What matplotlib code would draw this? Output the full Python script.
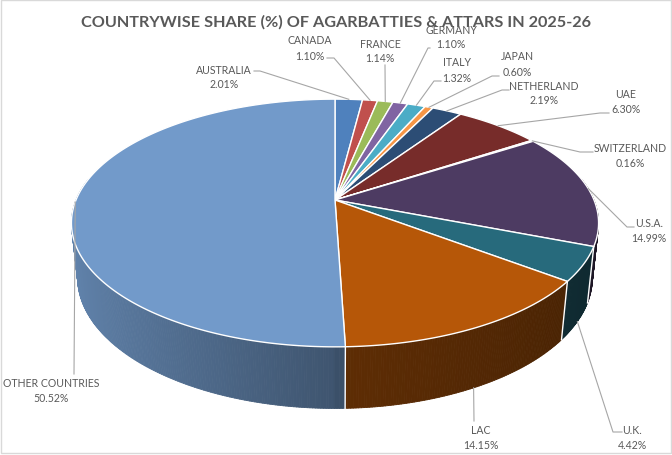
import numpy as np
import matplotlib
matplotlib.use('Agg')
import matplotlib.pyplot as plt
from matplotlib.collections import PolyCollection
from matplotlib.patches import Polygon, Rectangle
from matplotlib.colors import to_rgb

## Data

countries = ['AUSTRALIA', 'CANADA', 'FRANCE', 'GERMANY', 'ITALY', 'JAPAN', 'NETHERLAND',
             'UAE', 'SWITZERLAND', 'U.S.A.', 'U.K.', 'LAC', 'OTHER COUNTRIES']
shares = [2.01, 1.10, 1.14, 1.10, 1.32, 0.60, 2.19, 6.30, 0.16, 14.99, 4.42, 14.15, 50.52]
colors = ['#4F81BD', '#C0504D', '#9BBB59', '#8064A2', '#4BACC6', '#F79646', '#2C4D75',
          '#772C2A', '#5F7530', '#4D3B62', '#276A7C', '#B65708', '#729ACA']

TITLE = 'COUNTRYWISE SHARE (%) OF AGARBATTIES & ATTARS IN 2025-26'

## Layout (pixels, y downwards)

W, H = 672, 456
CX, CY = 335, 201          # projected centre of the pie top
RAD = 259                  # pie radius
ELEV = np.radians(27.5)    # view elevation
DIST = 1238                # perspective distance
DEPTH = 62                 # pie thickness

# label block (centre x, first line y), leader path from label towards slice, anchor rim
label_pos = [(224, 70), (310, 41), (380, 44), (451, 30), (457, 63), (517, 57), (544, 86),
             (626, 95), (630, 149), (649, 224), (632, 431), (481, 431), (51, 384)]
leader_pts = [[(254, 72), (260, 72)], [(327, 59), (334, 59)], [(385, 66)], [(430, 49), (428, 49)],
              [(441, 82), (434, 82)], [(499, 77), (492, 77)], [(509, 91), (502, 91)],
              [(609, 114), (600, 114)], [(593, 153), (580, 153)], [(634, 228), (627, 228)],
              [(622, 433), (613, 433)], [(474, 422)], [(74, 375)]]
anchor_rim = ['top'] * 10 + ['bottom', 'bottom', 'top']

TEXT_COL = '#595959'
LINE_COL = '#A6A6A6'
FONT = ['Lato', 'DejaVu Sans']
TITLE_WIDTH = 508          # px, as in the reference


def project(theta_deg, y):
    t = np.radians(theta_deg)
    X = RAD * np.sin(t)
    Z = RAD * np.cos(t)
    y_up = Z * np.sin(ELEV) + y * np.cos(ELEV)
    depth = Z * np.cos(ELEV) - y * np.sin(ELEV)
    s = DIST / (DIST + depth)
    return CX + X * s, CY - y_up * s, depth


def side_factor(theta_deg):
    sn = np.sin(np.radians(theta_deg))
    if sn < 0:
        return 0.55 + 0.31 * (-sn)
    return 0.52 - 0.14 * sn


fig = plt.figure(figsize=(W / 100, H / 100), dpi=100)
ax = fig.add_axes([0, 0, 1, 1])
ax.set_xlim(0, W)
ax.set_ylim(H, 0)
ax.axis('off')

bounds = np.concatenate([[0], np.cumsum(shares)]) / sum(shares) * 360.0

# side faces as thin strips, far to near
strips, strip_cols, strip_depth = [], [], []
for i, c in enumerate(colors):
    a0, a1 = bounds[i], bounds[i + 1]
    lo, hi = max(a0, 80), min(a1, 280)
    if hi <= lo:
        continue
    n = max(2, int((hi - lo) / 0.5))
    th = np.linspace(lo, hi, n + 1)
    base = np.array(to_rgb(c))
    for ta, tb in zip(th[:-1], th[1:]):
        xa, ya, da = project(ta, 0)
        xb, yb, db = project(tb, 0)
        xc, yc, dc = project(tb, -DEPTH)
        xd, yd, dd = project(ta, -DEPTH)
        strips.append([(xa, ya), (xb, yb), (xc, yc), (xd, yd)])
        strip_cols.append(tuple(base * side_factor((ta + tb) / 2)))
        strip_depth.append((da + db + dc + dd) / 4)
order = np.argsort(strip_depth)[::-1]
strips = [strips[k] for k in order]
strip_cols = [strip_cols[k] for k in order]
ax.add_collection(PolyCollection(strips, facecolors=strip_cols, edgecolors=strip_cols,
                                 linewidths=0.6, zorder=1))

# white seams between slices on the visible side
for b in bounds[1:-1]:
    if 101 < b < 259:
        x0, y0, _ = project(b, 0)
        x1, y1, _ = project(b, -DEPTH)
        ax.plot([x0, x1], [y0, y1], color='white', lw=1.0, zorder=2)

# top faces
for i, c in enumerate(colors):
    a0, a1 = bounds[i], bounds[i + 1]
    th = np.linspace(a0, a1, max(3, int((a1 - a0) / 0.5) + 2))
    px, py, _ = project(th, 0)
    pts = [(CX, CY)] + list(zip(px, py))
    ax.add_patch(Polygon(pts, closed=True, facecolor=c, edgecolor='white', lw=1.0,
                         joinstyle='round', zorder=3))

# labels and leader lines
for i, name in enumerate(countries):
    mid = (bounds[i] + bounds[i + 1]) / 2
    ax_, ay_, _ = project(mid, 0 if anchor_rim[i] == 'top' else -DEPTH)
    path = leader_pts[i] + [(ax_, ay_)]
    ax.plot([p[0] for p in path], [p[1] for p in path], color=LINE_COL, lw=0.8, zorder=4)
    lx, ly = label_pos[i]
    ax.text(lx, ly, name, ha='center', va='center', fontsize=7.6, color=TEXT_COL,
            family=FONT, zorder=5)
    ax.text(lx, ly + 15, '%.2f%%' % shares[i], ha='center', va='center', fontsize=7.6,
            color=TEXT_COL, family=FONT, zorder=5)

# title, sized to the reference width
title = ax.text(336, 22, TITLE, ha='center', va='center', fontsize=13, fontweight='bold',
                color=TEXT_COL, family=FONT, zorder=5)
renderer = fig.canvas.get_renderer()
tw = title.get_window_extent(renderer).width
title.set_fontsize(13 * TITLE_WIDTH / tw)

# chart border
ax.add_patch(Rectangle((0.5, 0.5), W - 1.5, H - 2.5, fill=False, edgecolor='#D9D9D9',
                       lw=1.0, zorder=6))

fig.savefig('out.png', dpi=100)
